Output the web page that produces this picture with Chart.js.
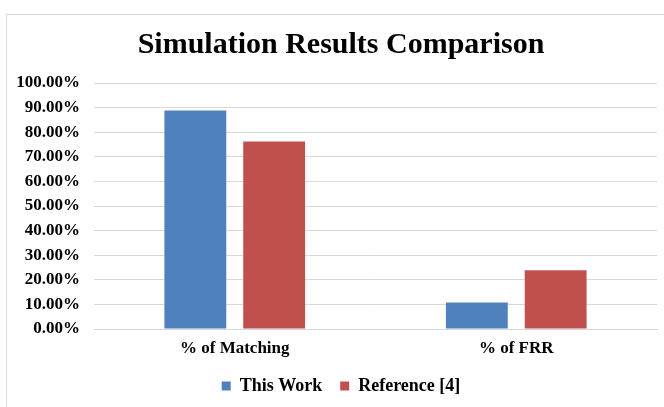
<!DOCTYPE html>
<html lang="en">
<head>
<meta charset="UTF-8">
<title>Simulation Results Comparison</title>
<script src="https://cdn.jsdelivr.net/npm/chart.js"></script>
<style>
    body { margin: 0; background: #ffffff; overflow: hidden; }
    .frame {
        position: absolute; left: 6px; top: 14px;
        width: 680px; height: 420px;
        border: 1px solid #d9d9d9;
    }
    /* o original foi cortado a direita: a tela do grafico e mais larga que a janela */
    .chart-box { position: absolute; left: 0; top: 0; width: 690px; height: 407px; }
</style>
</head>
<body>
<div class="frame"></div>
<div class="chart-box">
    <canvas id="chartComparacao"></canvas>
</div>

<script>
// dados
const categorias = ['% of Matching', '% of FRR'];
const thisWork = [88.8, 10.8];
const reference4 = [76.2, 23.9];

const fonteSerif = '"Liberation Serif", "Times New Roman", serif';

const data = {
    labels: categorias,
    datasets: [
        {
            label: 'This Work',
            data: thisWork,
            backgroundColor: '#4f81bd',
            borderWidth: 0,
            categoryPercentage: 0.56,
            barPercentage: 0.785
        },
        {
            label: 'Reference [4]',
            data: reference4,
            backgroundColor: '#c0504d',
            borderWidth: 0,
            categoryPercentage: 0.56,
            barPercentage: 0.785
        }
    ]
};

const config = {
    type: 'bar',
    data: data,
    options: {
        responsive: true,
        maintainAspectRatio: false,
        animation: false,
        layout: {
            padding: { top: 0, right: 8, left: 0, bottom: 2 }
        },
        plugins: {
            title: {
                display: true,
                text: 'Simulation Results Comparison',
                color: '#000000',
                font: { family: fonteSerif, size: 30, weight: 'bold' },
                padding: { top: 27, bottom: 20 }
            },
            legend: {
                position: 'bottom',
                labels: {
                    color: '#000000',
                    boxWidth: 9,
                    boxHeight: 9,
                    padding: 18,
                    font: { family: fonteSerif, size: 18, weight: 'bold' }
                }
            },
            tooltip: { enabled: false }
        },
        scales: {
            x: {
                afterFit: function (scale) { scale.height = 30; },
                grid: { display: false, drawTicks: false },
                border: { display: true, color: '#d9d9d9' },
                ticks: {
                    color: '#000000',
                    padding: 9,
                    font: { family: fonteSerif, size: 17, weight: 'bold' }
                }
            },
            y: {
                min: 0,
                max: 100,
                afterFit: function (scale) { scale.width = 94; },
                grid: { color: '#d9d9d9', drawTicks: false },
                border: { display: false },
                ticks: {
                    stepSize: 10,
                    color: '#000000',
                    padding: 14,
                    font: { family: fonteSerif, size: 17, weight: 'bold' },
                    callback: function (valor) { return valor.toFixed(2) + '%'; }
                }
            },
            // eixo vazio so para reservar espaco a direita
            yVazio: {
                position: 'right',
                min: 0,
                max: 100,
                afterFit: function (scale) { scale.width = 25; },
                grid: { display: false, drawTicks: false },
                border: { display: false },
                ticks: { display: false }
            }
        }
    }
};

const grafico = new Chart(document.getElementById('chartComparacao'), config);
</script>
</body>
</html>
